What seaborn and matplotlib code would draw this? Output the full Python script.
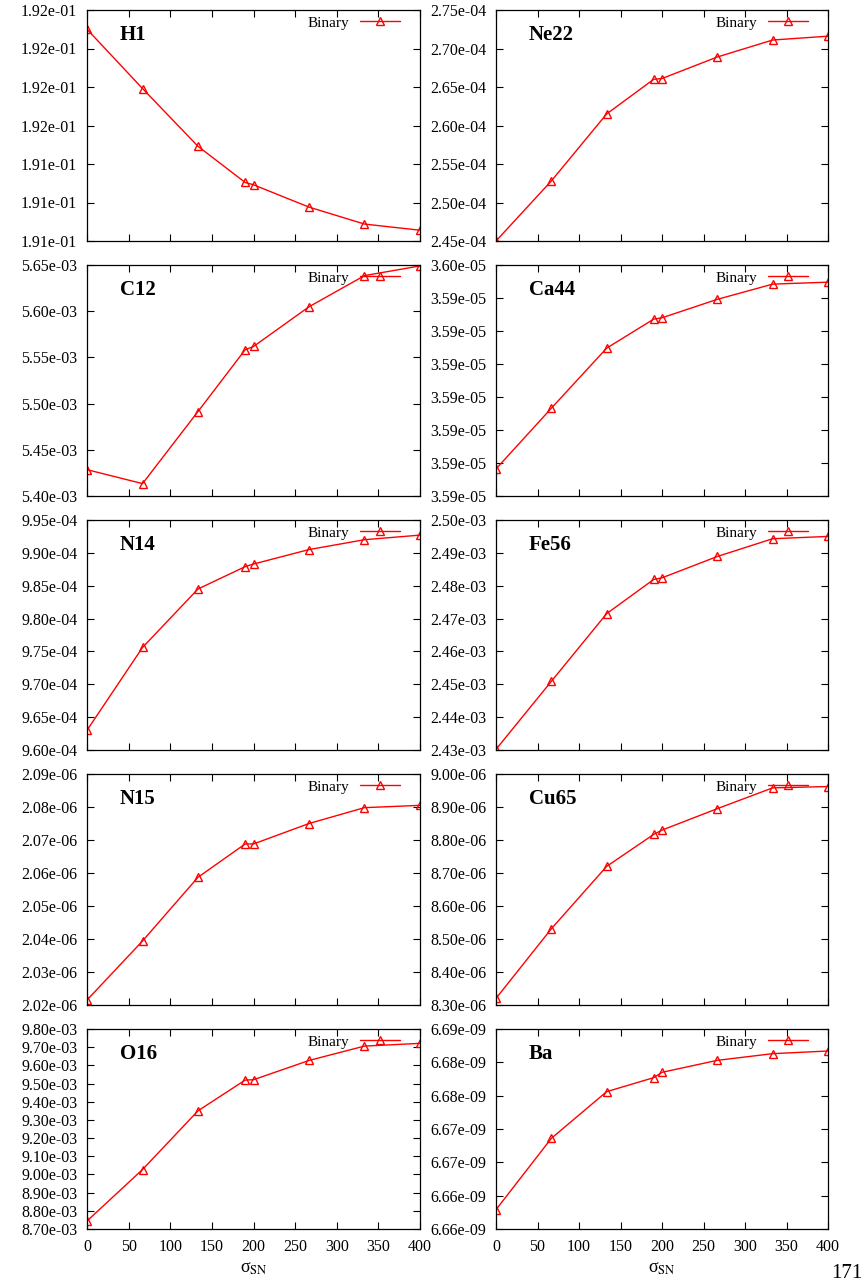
import numpy as np
import pandas as pd
import matplotlib
matplotlib.use('Agg')
import matplotlib.pyplot as plt
from matplotlib.ticker import FormatStrFormatter
import seaborn as sns

sns.set_style('ticks')
plt.rcParams['font.family'] = ['Liberation Serif', 'DejaVu Serif']
plt.rcParams['mathtext.fontset'] = 'stix'
plt.rcParams['text.color'] = 'black'
plt.rcParams['axes.labelcolor'] = 'black'

# sigma_SN values (x axis)
sigma = [0, 66.7, 133.3, 190, 200, 266.7, 333.3, 400]

# abundances
h1 = [0.191655, 0.191578, 0.191503, 0.191456, 0.191453, 0.191424, 0.191402, 0.191394]
ne22 = [2.450e-4, 2.528e-4, 2.615e-4, 2.660e-4, 2.661e-4, 2.689e-4, 2.711e-4, 2.716e-4]
c12 = [5.4285e-3, 5.4134e-3, 5.4914e-3, 5.5583e-3, 5.5618e-3, 5.6048e-3, 5.6385e-3, 5.649e-3]
ca44 = [3.59221e-5, 3.59313e-5, 3.59404e-5, 3.59448e-5, 3.59450e-5, 3.59478e-5, 3.59501e-5, 3.59504e-5]
n14 = [9.630e-4, 9.756e-4, 9.845e-4, 9.879e-4, 9.883e-4, 9.905e-4, 9.920e-4, 9.927e-4]
fe56 = [2.4302e-3, 2.4509e-3, 2.4715e-3, 2.4819e-3, 2.4824e-3, 2.4889e-3, 2.4943e-3, 2.4950e-3]
n15 = [2.0215e-6, 2.0394e-6, 2.0587e-6, 2.0688e-6, 2.0688e-6, 2.0750e-6, 2.0798e-6, 2.0805e-6]
cu65 = [8.320e-6, 8.531e-6, 8.720e-6, 8.817e-6, 8.830e-6, 8.895e-6, 8.958e-6, 8.962e-6]
o16 = [8.744e-3, 9.027e-3, 9.350e-3, 9.519e-3, 9.521e-3, 9.627e-3, 9.706e-3, 9.721e-3]
ba = [6.6609e-9, 6.6716e-9, 6.6786e-9, 6.6807e-9, 6.6815e-9, 6.6833e-9, 6.6843e-9, 6.6847e-9]

# (name, values, ymin, ymax, number of y ticks)
panels = [
    ('H1', h1, 0.19138, 0.19168, 7), ('Ne22', ne22, 2.45e-4, 2.75e-4, 7),
    ('C12', c12, 5.40e-3, 5.65e-3, 6), ('Ca44', ca44, 3.5918e-5, 3.5953e-5, 8),
    ('N14', n14, 9.60e-4, 9.95e-4, 8), ('Fe56', fe56, 2.43e-3, 2.50e-3, 8),
    ('N15', n15, 2.02e-6, 2.09e-6, 8), ('Cu65', cu65, 8.30e-6, 9.00e-6, 8),
    ('O16', o16, 8.70e-3, 9.80e-3, 12), ('Ba', ba, 6.658e-9, 6.688e-9, 7),
]

W, H = 865, 1281
fig = plt.figure(figsize=(W / 100, H / 100), dpi=100)

col_x = [(87, 420), (496, 828)]
row_y = [(10, 241), (265, 496), (520, 750), (774, 1005), (1029, 1229)]

for i, (name, vals, lo, hi, nt) in enumerate(panels):
    r, c = divmod(i, 2)
    x0, x1 = col_x[c]
    y0, y1 = row_y[r]
    ax = fig.add_axes([x0 / W, 1 - y1 / H, (x1 - x0) / W, (y1 - y0) / H])
    df = pd.DataFrame({'sigma': sigma, 'val': vals})
    sns.lineplot(data=df, x='sigma', y='val', ax=ax, color='red', lw=1.0,
                 marker='^', markersize=6, markerfacecolor='none',
                 markeredgecolor='red', markeredgewidth=1.0, label='Binary')
    ax.set_xlim(0, 400)
    ax.set_ylim(lo, hi)
    ax.set_xticks(np.arange(0, 401, 50))
    ax.set_yticks(np.linspace(lo, hi, nt))
    ax.yaxis.set_major_formatter(FormatStrFormatter('%.2e'))
    ax.tick_params(direction='in', top=True, right=True, length=5, width=0.8,
                   labelsize=11.5, pad=7, colors='black')
    for s in ax.spines.values():
        s.set_linewidth(0.9)
        s.set_color('black')
    ax.set_ylabel('')
    if r == 4:
        ax.set_xlabel('σ$_{\\rm SN}$', fontsize=13, labelpad=4)
    else:
        ax.set_xlabel('')
        ax.tick_params(labelbottom=False)
    ax.annotate(name, xy=(0, 1), xycoords='axes fraction',
                xytext=(33 * 0.72, -25 * 0.72), textcoords='offset points',
                fontsize=15, fontweight='bold', color='black', ha='left', va='center')
    h = y1 - y0
    ax.legend(loc='upper right', bbox_to_anchor=(1 - 20 / (x1 - x0), 1 - 6 / h),
              frameon=False, fontsize=11, handlelength=2.6, handletextpad=0.7,
              borderpad=0, borderaxespad=0, markerfirst=False, labelcolor='black')

fig.text(831 / W, 1 - 1273 / H, '171', fontsize=15, ha='left', va='center')

plt.savefig('out.png', dpi=100)
